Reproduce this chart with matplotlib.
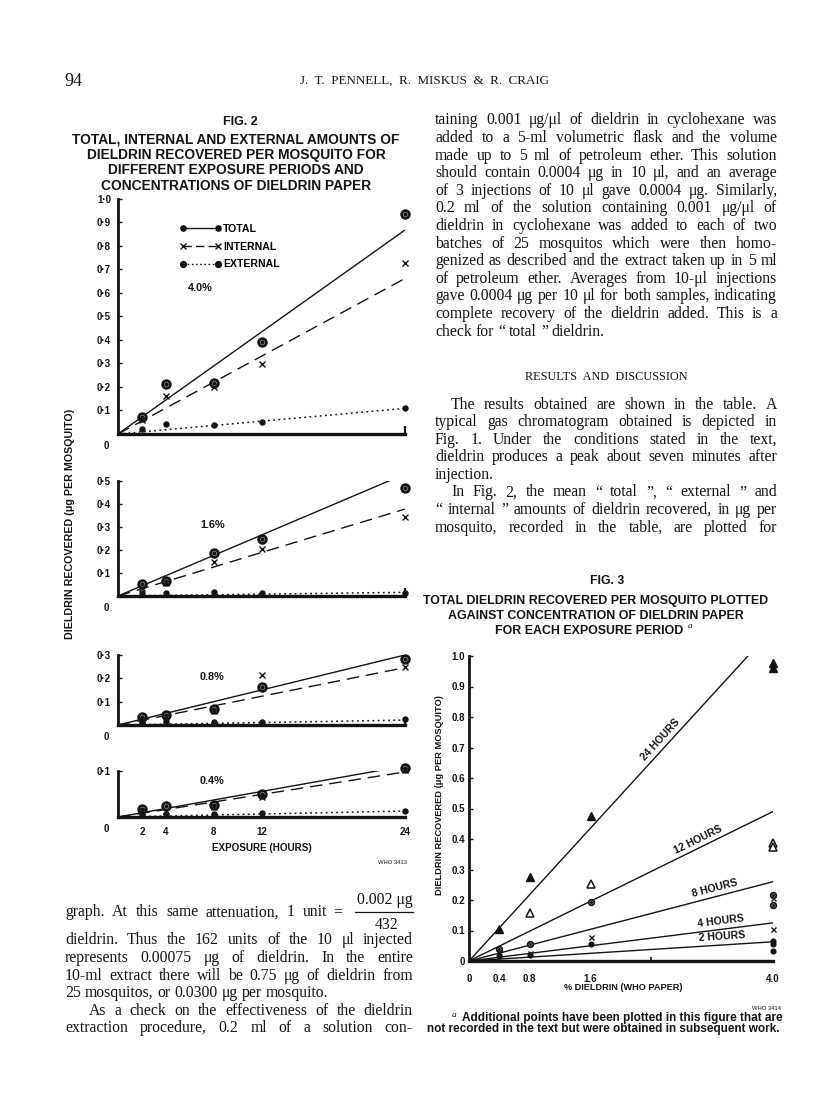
import matplotlib
matplotlib.use('Agg')
import math
import matplotlib.pyplot as plt
from matplotlib.lines import Line2D
from matplotlib.ticker import FixedLocator

# ---------------- data : Fig. 2 ----------------
hours = [2, 4, 8, 12, 24]
hour_ticklabels = ['2', '4', '8', '12', '24']
panel_labels = ['4.0%', '1.6%', '0.8%', '0.4%']
panel_ymax = [1.0, 0.5, 0.3, 0.1]
panel_yticks = [[0.1, 0.2, 0.3, 0.4, 0.5, 0.6, 0.7, 0.8, 0.9, 1.0],
                [0.1, 0.2, 0.3, 0.4, 0.5],
                [0.1, 0.2, 0.3],
                [0.1]]
panel_yticklabels = [['0·1', '0·2', '0·3', '0·4', '0·5', '0·6', '0·7', '0·8', '0·9', '1·0'],
                     ['0·1', '0·2', '0·3', '0·4', '0·5'],
                     ['0·1', '0·2', '0·3'],
                     ['0·1']]
total_40 = [0.074, 0.213, 0.216, 0.390, 0.936]
internal_40 = [0.060, 0.162, 0.199, 0.298, 0.729]
external_40 = [0.020, 0.043, 0.038, 0.052, 0.109]
total_16 = [0.052, 0.067, 0.186, 0.248, 0.471]
internal_16 = [0.033, 0.055, 0.149, 0.204, 0.345]
external_16 = [0.014, 0.014, 0.016, 0.014, 0.012]
total_08 = [0.036, 0.043, 0.069, 0.164, 0.282]
internal_08 = [0.021, 0.033, 0.061, 0.214, 0.247]
external_08 = [0.010, 0.013, 0.014, 0.014, 0.024]
total_04 = [0.017, 0.025, 0.026, 0.051, 0.107]
internal_04 = [0.012, 0.014, 0.021, 0.043, 0.102]
external_04 = [0.004, 0.007, 0.006, 0.008, 0.013]
# fitted straight lines through the origin: value reached at 24 h
fit_total_24h = [0.868, 0.530, 0.300, 0.111]
fit_internal_24h = [0.662, 0.378, 0.246, 0.098]
fit_external_24h = [0.109, 0.016, 0.021, 0.013]

# ---------------- data : Fig. 3 ----------------
conc_ticks = [0, 0.4, 0.8, 1.6, 4.0]
conc_ticklabels = ['0', '0.4', '0.8', '1.6', '4.0']
fig3_yticks = [0, 0.1, 0.2, 0.3, 0.4, 0.5, 0.6, 0.7, 0.8, 0.9, 1.0]
fig3_yticklabels = ['0', '0.1', '0.2', '0.3', '0.4', '0.5', '0.6', '0.7', '0.8', '0.9', '1.0']
period_labels = ['24 HOURS', '12 HOURS', '8 HOURS', '4 HOURS', '2 HOURS']
fit_at_4pct = [1.09, 0.49, 0.26, 0.125, 0.063]
h24_x = [0.4, 0.8, 1.6, 4.0, 4.0]
h24_y = [0.105, 0.274, 0.475, 0.978, 0.962]
h12_x = [0.8, 1.6, 4.0, 4.0]
h12_y = [0.156, 0.251, 0.387, 0.374]
h8_x = [0.4, 0.8, 1.6, 4.0, 4.0]
h8_y = [0.040, 0.055, 0.192, 0.216, 0.183]
h4_x = [0.4, 0.8, 1.6, 4.0, 4.0]
h4_y = [0.028, 0.025, 0.078, 0.105, 0.205]
h2_x = [0.4, 0.8, 1.6, 4.0, 4.0, 4.0]
h2_y = [0.018, 0.019, 0.055, 0.066, 0.056, 0.033]

# ---------------- page text ----------------
right_par1 = [
    "taining 0.001 μg/μl of dieldrin in cyclohexane was",
    "added to a 5-ml volumetric flask and the volume",
    "made up to 5 ml of petroleum ether.  This solution",
    "should contain 0.0004 μg in 10 μl, and an average",
    "of 3 injections of 10 μl gave 0.0004 μg.  Similarly,",
    "0.2 ml of the solution containing 0.001 μg/μl of",
    "dieldrin in cyclohexane was added to each of two",
    "batches of 25 mosquitos which were then homo-",
    "genized as described and the extract taken up in 5 ml",
    "of petroleum ether.  Averages from 10-μl injections",
    "gave 0.0004 μg per 10 μl for both samples, indicating",
    "complete recovery of the dieldrin added.  This is a",
    "check for “ total ” dieldrin.",
]
right_par2 = [
    "The results obtained are shown in the table.  A",
    "typical gas chromatogram obtained is depicted in",
    "Fig. 1.  Under the conditions stated in the text,",
    "dieldrin produces a peak about seven minutes after",
    "injection.",
]
right_par3 = [
    "In Fig. 2, the mean “ total ”, “ external ” and",
    "“ internal ” amounts of dieldrin recovered, in μg per",
    "mosquito, recorded in the table, are plotted for",
]
left_line1 = "graph.  At this same attenuation, 1 unit"
left_par1 = [
    "dieldrin.  Thus the 162 units of the 10 μl injected",
    "represents 0.00075 μg of dieldrin.  In the entire",
    "10-ml extract there will be 0.75 μg of dieldrin from",
    "25 mosquitos, or 0.0300 μg per mosquito.",
]
left_par2 = [
    "As a check on the effectiveness of the dieldrin",
    "extraction procedure, 0.2 ml of a solution con-",
]

# ---------------- helpers ----------------
W, H = 816, 1098
fig = plt.figure(figsize=(8.16, 10.98), dpi=100)
fig.patch.set_facecolor('white')
renderer = fig.canvas.get_renderer()

SERIF = 'Liberation Serif'
SANS = ['Liberation Sans Narrow', 'Liberation Sans', 'DejaVu Sans']
INK = '#141414'


def fx(x):
    return x / W


def fy(y):
    return 1 - y / H


def measure(s, size, **kw):
    t = fig.text(0, 0, s, size=size, **kw)
    w = t.get_window_extent(renderer=renderer).width
    t.remove()
    return w


def fit_size(s, width, **kw):
    return 10 * width / measure(s, 10, **kw)


def put(x, y, s, size, ha='center', va='center', **kw):
    return fig.text(fx(x), fy(y), s, size=size, ha=ha, va=va, color=INK, **kw)


def place_line(x0, x1, ycen, line, size, justify=True, indent=0):
    words = line.split()
    widths = [measure(w, size, family=SERIF) for w in words]
    space = measure('n n', size, family=SERIF) - measure('nn', size, family=SERIF)
    avail = x1 - x0 - indent
    if justify and len(words) > 1:
        gap = (avail - sum(widths)) / (len(words) - 1)
    else:
        gap = space
    x = x0 + indent
    for w, wd in zip(words, widths):
        fig.text(fx(x), fy(ycen + 4.5), w, size=size, family=SERIF,
                 ha='left', va='baseline', color=INK)
        x += wd + gap


def paragraph(x0, x1, y0, lines, size, indent=0, last_justified=False, step=17.6):
    for i, ln in enumerate(lines):
        last = (i == len(lines) - 1) and not last_justified
        place_line(x0, x1, y0 + i * step, ln, size, justify=not last,
                   indent=indent if i == 0 else 0)
    return y0 + len(lines) * step


# body size chosen so that the longest justified line fits the column
col_w = 342
nat = max(measure(l, 10, family=SERIF) for l in right_par1[:-1] + left_par1[:-1])
BODY = 10 * (col_w - 4) / nat

# ---------------- header ----------------
put(73, 81, "94", 13, family=SERIF)
hdr = "J.  T.  PENNELL,  R.  MISKUS  &  R.  CRAIG"
put(424, 81, hdr, fit_size(hdr, 248, family=SERIF), family=SERIF)

# ---------------- right column text ----------------
paragraph(435, 777, 120, right_par1, BODY)
rd = "RESULTS  AND  DISCUSSION"
put(606, 377, rd, fit_size(rd, 162, family=SERIF), family=SERIF)
paragraph(435, 777, 404, right_par2, BODY, indent=16)
paragraph(435, 777, 492, right_par3, BODY, indent=16, last_justified=True)

# ---------------- left column text ----------------
place_line(65, 327, 912, left_line1, BODY)
put(338, 912, "=", BODY, family=SERIF)
put(385, 900, "0.002 μg", BODY, family=SERIF)
fig.add_artist(Line2D([fx(355), fx(413)], [fy(912), fy(912)], transform=fig.transFigure,
                      color=INK, lw=0.9))
put(387, 925, "432", BODY, family=SERIF)
paragraph(65, 413, 940, left_par1, BODY)
paragraph(65, 413, 940 + 4 * 17.6, left_par2, BODY, indent=24, last_justified=True)

# ---------------- Fig. 2 titles ----------------
put(240, 122, "FIG. 2", 9, family=SANS, weight='bold')
t2 = ["TOTAL, INTERNAL AND EXTERNAL AMOUNTS OF",
      "DIELDRIN RECOVERED PER MOSQUITO FOR",
      "DIFFERENT EXPOSURE PERIODS AND",
      "CONCENTRATIONS OF DIELDRIN PAPER"]
s2 = fit_size(t2[0], 326, family='Liberation Sans', weight='bold')
for i, ln in enumerate(t2):
    put(236, 139 + i * 15.5, ln, s2, family='Liberation Sans', weight='bold')

# ---------------- Fig. 2 panels ----------------
panel_boxes = [(199, 434), (481, 596), (655, 725), (771, 817)]
x_left, x_right = 118, 405
totals = [total_40, total_16, total_08, total_04]
internals = [internal_40, internal_16, internal_08, internal_04]
externals = [external_40, external_16, external_08, external_04]
label_pos = [(188, 288), (200, 525), (200, 677), (200, 781)]
TICKFONT = dict(family='Liberation Sans', weight='bold', size=7.0)

for i in range(4):
    top, bot = panel_boxes[i]
    ax = fig.add_axes([fx(x_left), fy(bot), (x_right - x_left) / W, (bot - top) / H])
    ax.set_facecolor('none')
    ax.set_xlim(0, 24)
    ax.set_ylim(0, panel_ymax[i])
    for s in ['top', 'right']:
        ax.spines[s].set_visible(False)
    ax.spines['left'].set_linewidth(2.0)
    ax.spines['bottom'].set_linewidth(2.4)
    ax.spines['left'].set_color(INK)
    ax.spines['bottom'].set_color(INK)
    # fitted lines
    ax.plot([0, 24], [0, fit_total_24h[i]], color=INK, lw=1.0, solid_capstyle='butt')
    ax.plot([0, 24], [0, fit_internal_24h[i]], color=INK, lw=1.0, dashes=(9, 5))
    ax.plot([0, 24], [0, fit_external_24h[i]], color=INK, lw=1.1, dashes=(1.2, 2.2))
    # points
    ax.plot(hours, totals[i], 'o', ms=5.6, mfc='#9a9a9a', mec=INK, mew=1.9, clip_on=False, zorder=4)
    ax.plot(hours, totals[i], 'o', ms=1.8, mfc=INK, mec=INK, clip_on=False, zorder=5)
    ax.plot(hours, internals[i], 'x', ms=4, mec=INK, mew=1.0, clip_on=False, zorder=4)
    ax.plot(hours, externals[i], 'o', ms=3.6, mfc=INK, mec=INK, clip_on=False, zorder=4)
    # ticks
    ax.set_yticks(panel_yticks[i])
    ax.set_yticklabels(panel_yticklabels[i], **TICKFONT)
    ax.tick_params(axis='y', direction='in', length=3, width=1.0, pad=5, colors=INK)
    ax.xaxis.set_minor_locator(FixedLocator([24]))
    ax.tick_params(axis='x', which='minor', direction='in', length=6, width=1.6, colors=INK)
    if i == 3:
        ax.set_xticks(hours)
        ax.set_xticklabels(hour_ticklabels, **TICKFONT)
        ax.tick_params(axis='x', which='major', length=0, pad=7, colors=INK)
    else:
        ax.set_xticks([])
    ax.annotate('0', xy=(0, 0), xycoords='data', xytext=(-12, -12), textcoords='offset pixels',
                ha='center', va='center', color=INK, **TICKFONT)
    lx, ly = label_pos[i]
    put(lx, ly, panel_labels[i], 7.8, ha='left', family='Liberation Sans', weight='bold')

# legend of Fig. 2
handles = [Line2D([], [], color=INK, lw=1.0, marker='o', ms=3.8, mfc=INK, mec=INK),
           Line2D([], [], color=INK, lw=1.0, dashes=(6, 3), marker='x', ms=3.8, mew=1.0, mec=INK),
           Line2D([], [], color=INK, lw=1.0, dashes=(1.2, 1.8), marker='o', ms=4.2, mfc=INK, mec=INK)]
fig.legend(handles, ['TOTAL', 'INTERNAL', 'EXTERNAL'], loc='upper left',
           bbox_to_anchor=(fx(180), fy(224)), frameon=False, numpoints=2,
           handlelength=3.9, handletextpad=0.15, labelspacing=0.72, borderpad=0, borderaxespad=0,
           prop=dict(family='Liberation Sans', weight='bold', size=7.6))

ylab = "DIELDRIN RECOVERED (μg PER MOSQUITO)"
put(70, 524, ylab, fit_size(ylab, 228, family=SANS, weight='bold'), rotation=90,
    family=SANS, weight='bold')
xl = "EXPOSURE (HOURS)"
put(262, 848, xl, fit_size(xl, 100, family=SANS, weight='bold'), family=SANS, weight='bold')
put(393, 863, "WHO 3413", 4.2, family='Liberation Sans')

# ---------------- Fig. 3 ----------------
put(607, 581, "FIG. 3", 8.8, family='Liberation Sans', weight='bold')
t3 = ["TOTAL DIELDRIN RECOVERED PER MOSQUITO PLOTTED",
      "AGAINST CONCENTRATION OF DIELDRIN PAPER",
      "FOR EACH EXPOSURE PERIOD"]
s3 = fit_size(t3[0], 343, family='Liberation Sans', weight='bold')
put(596, 601, t3[0], s3, family='Liberation Sans', weight='bold')
put(596, 616, t3[1], s3, family='Liberation Sans', weight='bold')
t3b = put(589, 631, t3[2], s3, family='Liberation Sans', weight='bold')
bb = t3b.get_window_extent(renderer=renderer)
put(bb.x1 + 7, 626, "a", s3 * 0.75, family=SERIF, style='italic')

ax3 = fig.add_axes([fx(469), fy(961), (773 - 469) / W, (961 - 656) / H])
ax3.set_facecolor('none')
ax3.set_xlim(0, 4.0)
ax3.set_ylim(0, 1.0)
for s in ['top', 'right']:
    ax3.spines[s].set_visible(False)
ax3.spines['left'].set_linewidth(2.0)
ax3.spines['bottom'].set_linewidth(2.4)
ax3.spines['left'].set_color(INK)
ax3.spines['bottom'].set_color(INK)
for v in fit_at_4pct:
    ax3.plot([0, 4.0], [0, v], color=INK, lw=1.0)
ax3.plot(h24_x, h24_y, '^', ms=5.2, mfc=INK, mec=INK, clip_on=False, zorder=4)
ax3.plot(h12_x, h12_y, '^', ms=5.2, mfc='white', mec=INK, mew=1.1, clip_on=False, zorder=4)
ax3.plot(h8_x, h8_y, 'o', ms=4.0, mfc='white', mec=INK, mew=1.3, clip_on=False, zorder=4)
ax3.plot(h8_x, h8_y, 'o', ms=1.3, mfc=INK, mec=INK, clip_on=False, zorder=5)
ax3.plot(h4_x, h4_y, 'x', ms=3.6, mec=INK, mew=1.0, clip_on=False, zorder=4)
ax3.plot(h2_x, h2_y, 'o', ms=3.4, mfc=INK, mec=INK, clip_on=False, zorder=4)
ax3.set_xticks(conc_ticks)
ax3.set_xticklabels(conc_ticklabels, **TICKFONT)
ax3.tick_params(axis='x', which='major', length=0, pad=9, colors=INK)
ax3.xaxis.set_minor_locator(FixedLocator([2.4]))
ax3.tick_params(axis='x', which='minor', direction='in', length=3, width=1.2, colors=INK)
ax3.set_yticks(fig3_yticks)
ax3.set_yticklabels(fig3_yticklabels, **TICKFONT)
ax3.tick_params(axis='y', direction='in', length=3, width=1.0, pad=3, colors=INK)

# labels along the fitted lines
label_x = [2.6, 3.06, 3.26, 3.33, 3.34]
for lab, v, xl3 in zip(period_labels, fit_at_4pct, label_x):
    slope = v / 4.0
    p0 = ax3.transData.transform((0, 0))
    p1 = ax3.transData.transform((1, slope))
    ang = math.atan2(p1[1] - p0[1], p1[0] - p0[0])
    d = 8
    ax3.annotate(lab, xy=(xl3, slope * xl3), xycoords='data',
                 xytext=(-math.sin(ang) * d, math.cos(ang) * d), textcoords='offset pixels',
                 rotation=math.degrees(ang), rotation_mode='anchor', ha='center', va='center',
                 family='Liberation Sans', weight='bold', size=7.6, color=INK)

put(440, 795, ylab, fit_size(ylab, 200, family=SANS, weight='bold'), rotation=90,
    family=SANS, weight='bold')
xl3t = "% DIELDRIN (WHO PAPER)"
put(623, 988, xl3t, fit_size(xl3t, 117, family=SANS, weight='bold'), family=SANS, weight='bold')
put(767, 1008, "WHO 3414", 4.2, family='Liberation Sans')

# footnote
f1 = "Additional points have been plotted in this figure that are"
f2 = "not recorded in the text but were obtained in subsequent work."
fs = fit_size(f2, 353, family='Liberation Sans', weight='bold')
put(454, 1015, "a", fs * 0.8, family=SERIF, style='italic')
put(462, 1018, f1, fs, ha='left', family='Liberation Sans', weight='bold')
put(603.5, 1029, f2, fs, family='Liberation Sans', weight='bold')

fig.savefig('out.png', dpi=100, facecolor='white')
